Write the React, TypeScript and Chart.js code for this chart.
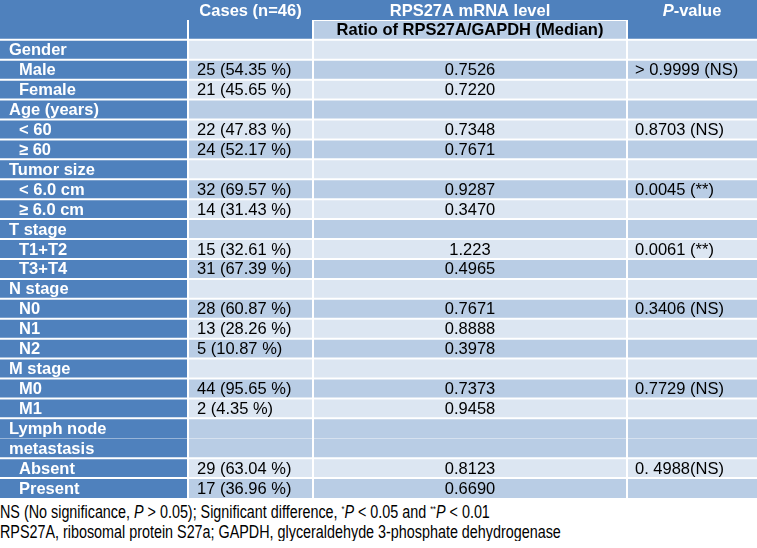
import React, { useEffect, useRef } from 'react';
import { Chart, registerables } from 'chart.js';

Chart.register(...registerables);

// ---------- data ----------
const headerTop = ['Cases (n=46)', 'RPS27A mRNA level', 'P-value'];
const headerSub = 'Ratio of RPS27A/GAPDH (Median)';

const rowLabels = [
  'Gender', 'Male', 'Female',
  'Age (years)', '< 60', '≥ 60',
  'Tumor size', '< 6.0 cm', '≥ 6.0 cm',
  'T stage', 'T1+T2', 'T3+T4',
  'N stage', 'N0', 'N1', 'N2',
  'M stage', 'M0', 'M1',
  'Lymph node metastasis', 'Absent', 'Present',
];
const groupRows = [
  true, false, false,
  true, false, false,
  true, false, false,
  true, false, false,
  true, false, false, false,
  true, false, false,
  true, false, false,
];
const caseCounts = [
  '', '25 (54.35 %)', '21 (45.65 %)',
  '', '22 (47.83 %)', '24 (52.17 %)',
  '', '32 (69.57 %)', '14 (31.43 %)',
  '', '15 (32.61 %)', '31 (67.39 %)',
  '', '28 (60.87 %)', '13 (28.26 %)', '5 (10.87 %)',
  '', '44 (95.65 %)', '2 (4.35 %)',
  '', '29 (63.04 %)', '17 (36.96 %)',
];
const ratioMedians = [
  '', '0.7526', '0.7220',
  '', '0.7348', '0.7671',
  '', '0.9287', '0.3470',
  '', '1.223', '0.4965',
  '', '0.7671', '0.8888', '0.3978',
  '', '0.7373', '0.9458',
  '', '0.8123', '0.6690',
];
const pValues = [
  '', '> 0.9999 (NS)', '',
  '', '0.8703 (NS)', '',
  '', '0.0045 (**)', '',
  '', '0.0061 (**)', '',
  '', '0.3406 (NS)', '', '',
  '', '0.7729 (NS)', '',
  '', '0. 4988(NS)', '',
];
const labelLines: Record<string, string[]> = {
  'Lymph node metastasis': ['Lymph node', 'metastasis'],
};

// ---------- layout / style ----------
const COL_EDGES = [0, 188, 313, 627, 757];
const W = 757;
const H = 498;
const DARK = '#4F81BD';
const LIGHT = '#DCE6F2';
const MID = '#B9CDE5';
const FONT = '"Liberation Sans", Arial, sans-serif';
const FS = 16.5;

// row units: -2 = header row 1, -1 = header row 2, i = body row i
const unitRows: number[] = [-2, -1];
rowLabels.forEach((l, i) => {
  const span = labelLines[l] ? labelLines[l].length : 1;
  for (let s = 0; s < span; s++) unitRows.push(i);
});
const unitIds = unitRows.map((_, k) => 'u' + k);
const lastUnit = unitRows.length - 1;
const isCont = (k: number) => k >= 2 && unitRows[k] === unitRows[k - 1];

function cellColor(c: number, k: number) {
  if (k === 1) return c === 2 ? MID : DARK;
  if (c === 0) return DARK;
  return unitRows[k] % 2 === 0 ? LIGHT : MID;
}

function makeColumnDataset(c: number) {
  return {
    label: 'col' + c,
    data: unitRows.map((_, k) => (k === 0 ? null : [COL_EDGES[c], COL_EDGES[c + 1]])),
    backgroundColor: unitRows.map((_, k) => cellColor(c, k)),
    borderColor: '#FFFFFF',
    borderSkipped: false,
    inflateAmount: 0,
    borderWidth: (ctx: any) => {
      const k = ctx.dataIndex;
      let top = 0;
      let bottom = 0;
      if (k === 1) top = c === 2 ? 1 : 0;
      else if (k >= 2 && !isCont(k)) top = 1;
      if (k >= 1 && k < lastUnit && !isCont(k + 1)) bottom = 1;
      return { top, bottom, left: c > 0 ? 1 : 0, right: c < 3 ? 1 : 0 };
    },
  };
}

const tableTextPlugin = {
  id: 'tableText',
  afterDatasetsDraw(chart: any) {
    const { ctx } = chart;
    const xs = chart.scales.x;
    const ys = chart.scales.y;
    const px = (v: number) => xs.getPixelForValue(v);
    const py = (k: number) => ys.getPixelForValue(k);
    ctx.save();
    ctx.textBaseline = 'middle';

    const text = (s: string, x: number, y: number, align: string, color: string, weight: string, style = '') => {
      ctx.font = `${style} ${weight} ${FS}px ${FONT}`;
      ctx.fillStyle = color;
      ctx.textAlign = align;
      ctx.fillText(s, x, y);
    };

    // header row 1
    const y0 = py(0) + 1;
    text(headerTop[0], (px(COL_EDGES[1]) + px(COL_EDGES[2])) / 2, y0, 'center', '#FFFFFF', 'bold');
    text(headerTop[1], (px(COL_EDGES[2]) + px(COL_EDGES[3])) / 2, y0, 'center', '#FFFFFF', 'bold');
    // P-value with italic P
    {
      const cx = (px(COL_EDGES[3]) + px(COL_EDGES[4])) / 2;
      ctx.font = `italic bold ${FS}px ${FONT}`;
      const wP = ctx.measureText('P').width;
      ctx.font = `bold ${FS}px ${FONT}`;
      const rest = headerTop[2].slice(1);
      const wR = ctx.measureText(rest).width;
      const start = cx - (wP + wR) / 2;
      text('P', start, y0, 'left', '#FFFFFF', 'bold', 'italic');
      text(rest, start + wP, y0, 'left', '#FFFFFF', 'bold');
    }
    // header row 2
    text(headerSub, (px(COL_EDGES[2]) + px(COL_EDGES[3])) / 2, py(1) + 1, 'center', '#000000', 'bold');

    // body
    rowLabels.forEach((label, i) => {
      const units: number[] = [];
      unitRows.forEach((r, k) => { if (r === i) units.push(k); });
      const mid = units.reduce((a, k) => a + py(k), 0) / units.length + 1;
      const lx = px(COL_EDGES[0]) + (groupRows[i] ? 9 : 19);
      const lines = labelLines[label];
      if (lines) {
        lines.forEach((ln, j) => text(ln, lx, py(units[j]) + 1, 'left', '#FFFFFF', 'bold'));
      } else {
        text(label, lx, mid, 'left', '#FFFFFF', 'bold');
      }
      if (caseCounts[i]) text(caseCounts[i], px(COL_EDGES[1]) + 9, mid, 'left', '#000000', 'normal');
      if (ratioMedians[i]) text(ratioMedians[i], (px(COL_EDGES[2]) + px(COL_EDGES[3])) / 2, mid, 'center', '#000000', 'normal');
      if (pValues[i]) text(pValues[i], px(COL_EDGES[3]) + 8, mid, 'left', '#000000', 'normal');
    });
    ctx.restore();
  },
};

export default function App() {
  const canvasRef = useRef<HTMLCanvasElement | null>(null);

  useEffect(() => {
    document.body.style.margin = '0';
    const canvas = canvasRef.current;
    if (!canvas) return;
    const datasets: any[] = [
      {
        label: 'header',
        data: unitRows.map((_, k) => (k === 0 ? [COL_EDGES[0], COL_EDGES[4]] : null)),
        backgroundColor: DARK,
        borderWidth: 0,
        inflateAmount: 0,
      },
      makeColumnDataset(0),
      makeColumnDataset(1),
      makeColumnDataset(2),
      makeColumnDataset(3),
    ];
    const chart = new Chart(canvas, {
      type: 'bar',
      data: { labels: unitIds, datasets },
      options: {
        indexAxis: 'y',
        responsive: false,
        devicePixelRatio: 1,
        animation: false,
        events: [],
        layout: { padding: 0 },
        datasets: { bar: { grouped: false, barPercentage: 1, categoryPercentage: 1 } },
        scales: {
          x: { type: 'linear', min: COL_EDGES[0], max: COL_EDGES[4], display: false },
          y: { type: 'category', display: false, offset: true },
        },
        plugins: { legend: { display: false }, tooltip: { enabled: false }, title: { display: false } },
      } as any,
      plugins: [tableTextPlugin],
    });
    return () => chart.destroy();
  }, []);

  const supStyle: React.CSSProperties = { fontSize: '9px', position: 'relative', top: '-6px' };
  const lineStyle: React.CSSProperties = {
    whiteSpace: 'nowrap',
    transform: 'scaleX(0.82)',
    transformOrigin: '0 50%',
  };
  return (
    <div style={{ width: W }}>
      <canvas ref={canvasRef} width={W} height={H} style={{ display: 'block', width: W, height: H }} />
      <div
        style={{
          fontFamily: '"Liberation Sans", Arial, sans-serif',
          fontSize: '17.5px',
          lineHeight: '17px',
          color: '#000',
          paddingTop: '6px',
        }}
      >
        <div style={lineStyle}>
          NS (No significance, <i>P</i> &gt; 0.05); Significant difference, <span style={supStyle}>*</span>
          <i>P</i> &lt; 0.05 and <span style={supStyle}>**</span>
          <i>P</i> &lt; 0.01
        </div>
        <div style={lineStyle}>RPS27A, ribosomal protein S27a; GAPDH, glyceraldehyde 3-phosphate dehydrogenase</div>
      </div>
    </div>
  );
}
